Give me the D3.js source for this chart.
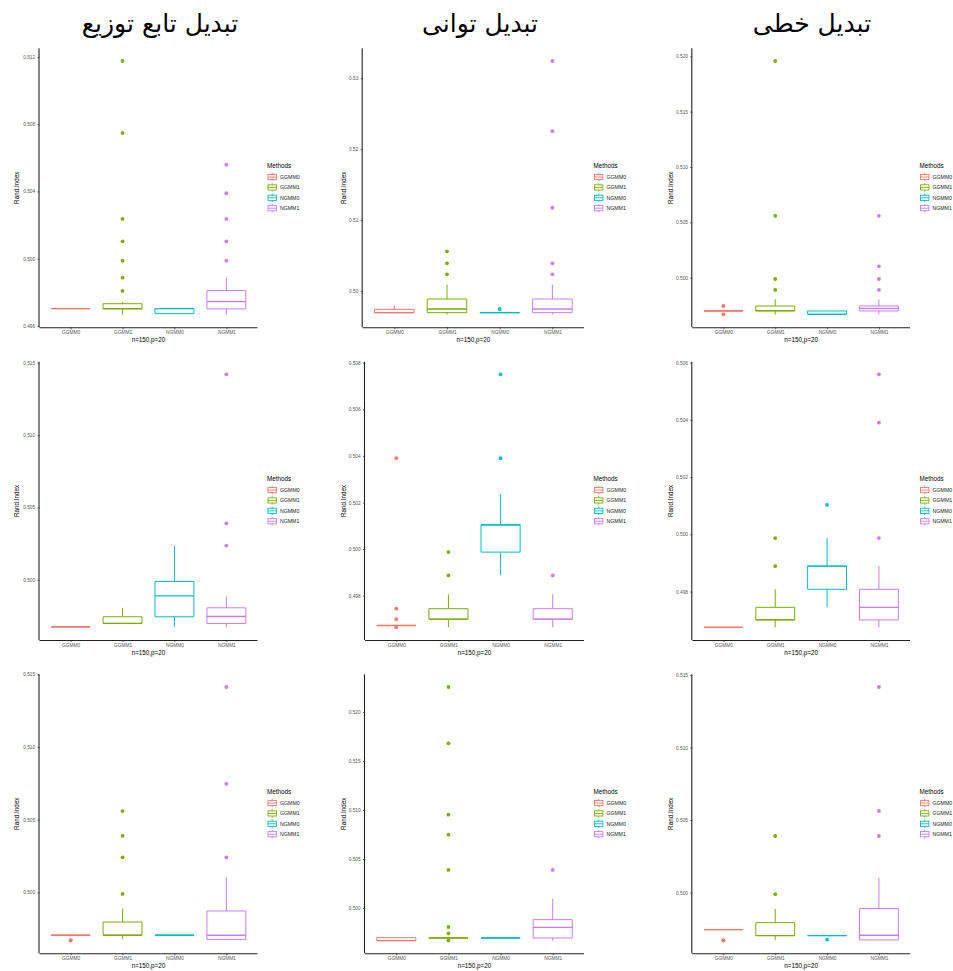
<!DOCTYPE html>
<html>
<head>
<meta charset="utf-8">
<script src="https://cdn.jsdelivr.net/npm/d3@7"></script>
<style>
  body { margin: 0; background: #fff; }
  svg { display: block; }
</style>
</head>
<body>
<svg id="chart" width="953" height="971"></svg>
<script>
// methods and column titles
const methods = ['GGMM0', 'GGMM1', 'NGMM0', 'NGMM1'];
const titles = ['تبدیل تابع توزیع', 'تبدیل توانی', 'تبدیل خطی'];

// box stats per method: [lower whisker, q1, median, q3, upper whisker]
// row 1
const r1c1Box = [[0.49703, 0.49703, 0.49703, 0.49703, 0.49703], [0.49667, 0.49701, 0.49703, 0.49732, 0.49742], [0.49673, 0.49673, 0.49703, 0.49703, 0.49703], [0.49667, 0.49701, 0.49744, 0.49810, 0.49887]];
const r1c1Out = [[], [0.511757, 0.507475, 0.50236, 0.50103, 0.49988, 0.49887, 0.49808], [], [0.50559, 0.50389, 0.50236, 0.50103, 0.49988]];
const r1c1Ticks = ['0.496', '0.500', '0.504', '0.508', '0.512'];

const r1c2Box = [[0.49695, 0.49695, 0.49695, 0.49742, 0.49798], [0.49667, 0.49695, 0.49746, 0.49887, 0.50089], [0.49695, 0.49695, 0.49695, 0.49695, 0.49695], [0.49667, 0.49695, 0.49746, 0.49887, 0.50089]];
const r1c2Out = [[], [0.50559, 0.50390, 0.50235], [0.49746], [0.53244, 0.52254, 0.51174, 0.50390, 0.50235]];
const r1c2Ticks = ['0.50', '0.51', '0.52', '0.53'];

const r1c3Box = [[0.49699, 0.49699, 0.49699, 0.49699, 0.49699], [0.49666, 0.49699, 0.49702, 0.49744, 0.49805], [0.49669, 0.49669, 0.49669, 0.49699, 0.49699], [0.49669, 0.49699, 0.49723, 0.49744, 0.49805]];
const r1c3Out = [[0.49744, 0.49669], [0.51958, 0.50559, 0.49988, 0.49889], [], [0.50559, 0.50102, 0.49988, 0.49889]];
const r1c3Ticks = ['0.500', '0.505', '0.510', '0.515', '0.520'];

// row 2
const r2c1Box = [[0.49676, 0.49676, 0.49676, 0.49676, 0.49676], [0.49699, 0.49699, 0.49699, 0.49745, 0.49807], [0.49676, 0.49745, 0.49890, 0.49989, 0.50237], [0.49672, 0.49699, 0.49747, 0.49807, 0.49885]];
const r2c1Out = [[], [], [], [0.51419, 0.50390, 0.50237]];
const r2c1Ticks = ['0.500', '0.505', '0.510', '0.515'];

const r2c2Box = [[0.49672, 0.49672, 0.49672, 0.49672, 0.49672], [0.49665, 0.49699, 0.49699, 0.49744, 0.49806], [0.49887, 0.49987, 0.50103, 0.50105, 0.50237], [0.49665, 0.49699, 0.49699, 0.49744, 0.49806]];
const r2c2Out = [[0.50390, 0.49744, 0.49699, 0.49664], [0.49987, 0.49887], [0.50750, 0.50390], [0.49887]];
const r2c2Ticks = ['0.498', '0.500', '0.502', '0.504', '0.506', '0.508'];

const r2c3Box = [[0.49675, 0.49675, 0.49675, 0.49675, 0.49675], [0.49675, 0.49701, 0.49701, 0.49745, 0.49808], [0.49745, 0.49808, 0.49889, 0.49889, 0.49987], [0.49675, 0.49701, 0.49745, 0.49808, 0.49889]];
const r2c3Out = [[], [0.49987, 0.49889], [0.50103], [0.50559, 0.50390, 0.49987]];
const r2c3Ticks = ['0.498', '0.500', '0.502', '0.504', '0.506'];

// row 3
const r3c1Box = [[0.49705, 0.49705, 0.49705, 0.49705, 0.49705], [0.49679, 0.49705, 0.49705, 0.49796, 0.49888], [0.49705, 0.49705, 0.49705, 0.49705, 0.49705], [0.49672, 0.49675, 0.49705, 0.49872, 0.50103]];
const r3c1Out = [[0.49672, 0.49668], [0.50559, 0.50389, 0.50241, 0.49989], [], [0.51413, 0.50747, 0.50241]];
const r3c1Ticks = ['0.500', '0.505', '0.510', '0.515'];

const r3c2Box = [[0.49667, 0.49667, 0.49667, 0.49697, 0.49697], [0.49694, 0.49694, 0.49694, 0.49694, 0.49694], [0.49694, 0.49694, 0.49694, 0.49694, 0.49694], [0.49667, 0.49694, 0.49803, 0.49881, 0.50095]];
const r3c2Out = [[], [0.52255, 0.51680, 0.50952, 0.50748, 0.50388, 0.49806, 0.49741, 0.49667], [], [0.50388]];
const r3c2Ticks = ['0.500', '0.505', '0.510', '0.515', '0.520'];

const r3c3Box = [[0.49745, 0.49745, 0.49745, 0.49745, 0.49745], [0.49672, 0.49704, 0.49704, 0.49793, 0.49887], [0.49704, 0.49704, 0.49704, 0.49704, 0.49704], [0.49672, 0.49674, 0.49706, 0.49890, 0.50103]];
const r3c3Out = [[0.49672, 0.49669], [0.50390, 0.49989], [0.49676], [0.51417, 0.50563, 0.50390]];
const r3c3Ticks = ['0.500', '0.505', '0.510', '0.515'];

const panels = [
  [r1c1Box, r1c1Out, r1c1Ticks], [r1c2Box, r1c2Out, r1c2Ticks], [r1c3Box, r1c3Out, r1c3Ticks],
  [r2c1Box, r2c1Out, r2c1Ticks], [r2c2Box, r2c2Out, r2c2Ticks], [r2c3Box, r2c3Out, r2c3Ticks],
  [r3c1Box, r3c1Out, r3c1Ticks], [r3c2Box, r3c2Out, r3c2Ticks], [r3c3Box, r3c3Out, r3c3Ticks]
];

// layout
const colors = d3.scaleOrdinal().domain(methods).range(['#F8766D', '#7CAE00', '#00BFC4', '#C77CFF']);
const rowTop = [48.3, 361.7, 674.3], rowBottom = [327.3, 640, 953.3];
const colRight = [257.5, 584, 910];
const plotLeft = [[39.5, 362.7, 692.3], [39.5, 365, 692.3], [39.5, 365, 692.3]];
const yTitleX = [17.3, 344, 670.7];
const titleX = [160, 480, 812];

const svg = d3.select('#chart');
const FONT = 'Liberation Sans, Arial, sans-serif';

titles.forEach((t, c) => {
  svg.append('text').attr('x', titleX[c]).attr('y', 32)
    .attr('text-anchor', 'middle').attr('font-family', 'DejaVu Serif, DejaVu Sans, serif')
    .attr('font-size', 25).attr('fill', '#000').text(t);
});

panels.forEach(([box, out, ticks], i) => {
  const r = Math.floor(i / 3), c = i % 3;
  const left = plotLeft[r][c], right = colRight[c], top = rowTop[r], bottom = rowBottom[r];
  const g = svg.append('g');

  const all = box.flat().concat(out.flat());
  const [lo, hi] = d3.extent(all);
  const pad = (hi - lo) * 0.05;
  const y = d3.scaleLinear().domain([lo - pad, hi + pad]).range([bottom, top]);
  const x = d3.scalePoint().domain(methods).range([left, right]).padding(0.6);
  const bw = x.step() * 0.75;

  methods.forEach((m, j) => {
    const [wl, q1, md, q3, wu] = box[j];
    const cx = x(m), col = colors(m);
    // outliers
    g.selectAll(null).data(out[j]).enter().append('circle')
      .attr('cx', cx).attr('cy', d => y(d)).attr('r', 1.9).attr('fill', col);
    // whiskers
    g.append('line').attr('x1', cx).attr('x2', cx).attr('y1', y(q3)).attr('y2', y(wu))
      .attr('stroke', col).attr('stroke-width', 1);
    g.append('line').attr('x1', cx).attr('x2', cx).attr('y1', y(q1)).attr('y2', y(wl))
      .attr('stroke', col).attr('stroke-width', 1);
    // box
    const x0 = cx - bw / 2, x1 = cx + bw / 2;
    g.append('path')
      .attr('d', `M${x0},${y(q3)}H${x1}V${y(q1)}H${x0}Z`)
      .attr('fill', '#fff').attr('stroke', col).attr('stroke-width', 1);
    g.append('line').attr('x1', x0).attr('x2', x1).attr('y1', y(md)).attr('y2', y(md))
      .attr('stroke', col).attr('stroke-width', 1.3);
  });

  // axes
  const yAxis = g.append('g').attr('transform', `translate(${left},0)`)
    .call(d3.axisLeft(y).tickValues(ticks.map(Number)).tickFormat((d, k) => ticks[k])
      .tickSize(2).tickSizeOuter(0).tickPadding(2.3));
  const xAxis = g.append('g').attr('transform', `translate(0,${bottom})`)
    .call(d3.axisBottom(x).tickSize(2).tickSizeOuter(0).tickPadding(1.6));
  [yAxis, xAxis].forEach(a => {
    a.select('.domain').attr('stroke', '#222').attr('stroke-width', 1.1);
    a.selectAll('.tick line').attr('stroke', '#333').attr('stroke-width', 0.8);
    a.selectAll('.tick text').attr('fill', '#555').attr('font-family', FONT).attr('font-size', 4.8);
  });
  // domain path should span whole panel width
  xAxis.select('.domain').attr('d', `M${left},0.5H${right}`);
  yAxis.select('.domain').attr('d', `M-0.5,${bottom}V${top}`);

  g.append('text').attr('x', (left + right) / 2).attr('y', bottom + 15)
    .attr('text-anchor', 'middle').attr('font-family', FONT).attr('font-size', 6.3)
    .attr('fill', '#000').text('n=150,p=20');
  const mid = (top + bottom) / 2;
  g.append('text').attr('transform', `translate(${yTitleX[c] + 2},${mid}) rotate(-90)`)
    .attr('text-anchor', 'middle').attr('font-family', FONT).attr('font-size', 6.3)
    .attr('fill', '#000').text('Rand.Index');

  // legend
  const lg = g.append('g').attr('transform', `translate(${right + 9.5},${mid})`);
  lg.append('text').attr('x', 0).attr('y', -20).attr('font-family', FONT).attr('font-size', 6.3)
    .attr('fill', '#000').text('Methods');
  methods.forEach((m, j) => {
    const ky = -10.8 + 10.4 * j, col = colors(m);
    const k = lg.append('g').attr('transform', `translate(5.2,${ky})`);
    k.append('line').attr('x1', 0).attr('x2', 0).attr('y1', -4.2).attr('y2', 4.2)
      .attr('stroke', col).attr('stroke-width', 0.9);
    k.append('rect').attr('x', -4.2).attr('y', -2.6).attr('width', 8.4).attr('height', 5.2)
      .attr('fill', '#fff').attr('stroke', col).attr('stroke-width', 0.9);
    k.append('line').attr('x1', -4.2).attr('x2', 4.2).attr('y1', 0).attr('y2', 0)
      .attr('stroke', col).attr('stroke-width', 0.9);
    lg.append('text').attr('x', 13).attr('y', ky + 1.8).attr('font-family', FONT)
      .attr('font-size', 5.2).attr('fill', '#222').text(m);
  });
});
</script>
</body>
</html>
